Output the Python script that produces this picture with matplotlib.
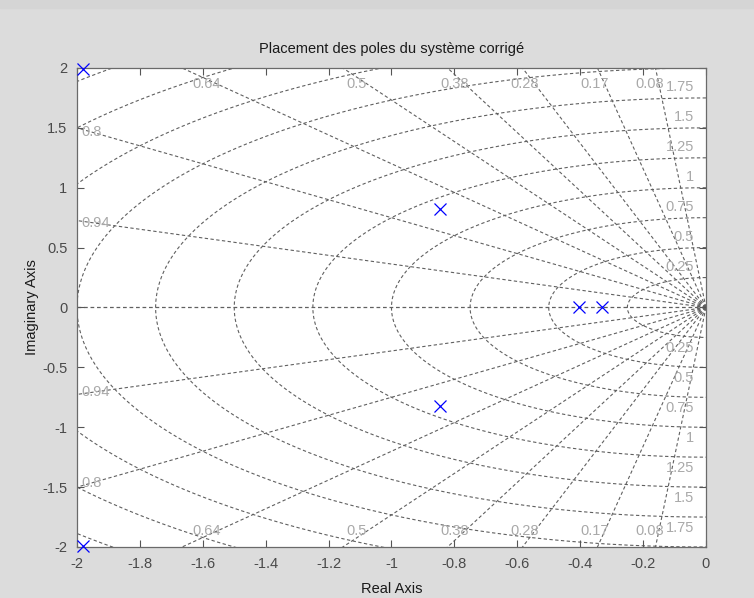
import numpy as np
import matplotlib
matplotlib.use("Agg")
import matplotlib.pyplot as plt

plt.rcParams['font.family'] = ['Liberation Sans', 'DejaVu Sans']
plt.rcParams['axes.unicode_minus'] = False

# poles of the corrected closed loop system
pole_re = [-1.98, -1.98, -0.845, -0.845, -0.405, -0.33]
pole_im = [1.99, -1.99, 0.82, -0.82, 0.0, 0.0]

# s-plane grid: damping ratios and natural frequencies
zeta = [0.08, 0.17, 0.28, 0.38, 0.5, 0.64, 0.8, 0.94]
wn = [0.25, 0.5, 0.75, 1.0, 1.25, 1.5, 1.75, 2.0, 2.25, 2.5, 2.75]
wn_labels = ["0.25", "0.5", "0.75", "1", "1.25", "1.5", "1.75"]

xticks = [-2, -1.8, -1.6, -1.4, -1.2, -1, -0.8, -0.6, -0.4, -0.2, 0]
xticklabels = ["-2", "-1.8", "-1.6", "-1.4", "-1.2", "-1", "-0.8", "-0.6", "-0.4", "-0.2", "0"]
yticks = [-2, -1.5, -1, -0.5, 0, 0.5, 1, 1.5, 2]
yticklabels = ["-2", "-1.5", "-1", "-0.5", "0", "0.5", "1", "1.5", "2"]

fig = plt.figure(figsize=(7.54, 5.98), dpi=100, facecolor='#dcdcdc')
# pale strip along the top of the window
fig.patches.append(plt.Rectangle((0, 0.986), 1, 0.014, transform=fig.transFigure,
                                 color='#d5d5d5', zorder=0))
ax = fig.add_axes([0.1021, 0.0853, 0.8342, 0.801])

gcol = '#606060'
dash = (0, (3.0, 2.2))

# damping lines
for z in zeta:
    th = np.arccos(z)
    r = np.array([0, 3.2])
    for sgn in (1, -1):
        ax.plot(-r * np.cos(th), sgn * r * np.sin(th), color=gcol, lw=0.8,
                linestyle=dash, zorder=1)
ax.plot([-3.2, 0], [0, 0], color=gcol, lw=0.9, linestyle=dash, zorder=1)

# natural frequency circles
t = np.linspace(np.pi / 2, 3 * np.pi / 2, 400)
for w in wn:
    ax.plot(w * np.cos(t), w * np.sin(t), color=gcol, lw=0.8, linestyle=dash, zorder=1)

lcol = '#a9a9a9'
fs_grid = 10.5
for z in zeta:
    slope = np.sqrt(1 - z ** 2) / z
    if slope * 2 > 2:
        xl = -1.87 / slope - 0.03
        for sgn in (1, -1):
            ax.text(xl, sgn * 1.87, f"{z:g}", color=lcol, fontsize=fs_grid,
                    ha='center', va='center', zorder=2)
    else:
        yl = 1.95 * slope
        for sgn in (1, -1):
            ax.text(-1.985, sgn * yl, f"{z:g}", color=lcol, fontsize=fs_grid,
                    ha='left', va='center', zorder=2)

for w, lab in zip(wn, wn_labels):
    for sgn in (1, -1):
        ax.text(-0.038, sgn * (w + 0.09), lab, color=lcol, fontsize=fs_grid,
                ha='right', va='center', zorder=2)

ax.plot(pole_re, pole_im, linestyle='none', marker='x', color='#0000ff',
        markersize=8, markeredgewidth=0.9, zorder=3, clip_on=False)

ax.set_xlim(-2, 0)
ax.set_ylim(-2, 2)
ax.set_xticks(xticks)
ax.set_xticklabels(xticklabels)
ax.set_yticks(yticks)
ax.set_yticklabels(yticklabels)
ax.tick_params(direction='in', length=5, width=0.8, color='#555555',
               labelsize=10.5, labelcolor='#4a4a4a', top=True, right=True, pad=7)
for sp in ax.spines.values():
    sp.set_color('#6a6a6a')
    sp.set_linewidth(0.9)

ax.set_title("Placement des poles du système corrigé", fontsize=10.5,
             color='#1a1a1a', pad=11)
ax.set_xlabel("Real Axis", fontsize=10.5, color='#1a1a1a', labelpad=8)
ax.set_ylabel("Imaginary Axis", fontsize=10.5, color='#1a1a1a', labelpad=2)

fig.savefig("out.png", dpi=100, facecolor=fig.get_facecolor())
